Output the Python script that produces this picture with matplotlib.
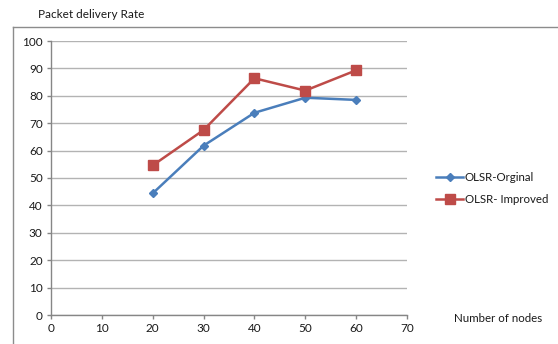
import matplotlib.pyplot as plt
from matplotlib.lines import Line2D

plt.rcParams['font.family'] = ['Lato', 'DejaVu Sans']

nodes = [20, 30, 40, 50, 60]
olsr_original = [44.4, 61.8, 73.8, 79.3, 78.5]
olsr_improved = [54.6, 67.5, 86.4, 81.9, 89.3]
x_ticks = [0, 10, 20, 30, 40, 50, 60, 70]
y_ticks = [0, 10, 20, 30, 40, 50, 60, 70, 80, 90, 100]

blue = '#4A7EBB'
red = '#BE4B48'
axis_gray = '#868686'
grid_gray = '#B3B3B3'
text_col = '#1A1A1A'

fig = plt.figure(figsize=(5.58, 3.44), dpi=100)
ax = fig.add_axes([51 / 558, 1 - 315 / 344, 356 / 558, 274 / 344])

ax.plot(nodes, olsr_original, color=blue, lw=1.8, marker='D', ms=4.5,
        label='OLSR-Orginal', zorder=3)
ax.plot(nodes, olsr_improved, color=red, lw=1.8, marker='s', ms=6.5,
        label='OLSR- Improved', zorder=3)

ax.set_xlim(0, 70)
ax.set_ylim(0, 100)
ax.set_xticks(x_ticks)
ax.set_yticks(y_ticks)
ax.yaxis.grid(True, color=grid_gray, lw=1)
ax.set_axisbelow(True)
for side in ('top', 'right'):
    ax.spines[side].set_visible(False)
for side in ('left', 'bottom'):
    ax.spines[side].set_color(axis_gray)
    ax.spines[side].set_linewidth(1)
ax.tick_params(axis='both', colors=axis_gray, length=3, width=1,
               labelcolor=text_col, labelsize=8.5)
ax.tick_params(axis='y', pad=3)
ax.tick_params(axis='x', pad=3)

# outer chart frame (partly cut off at right and bottom)
fig.add_artist(Line2D([13 / 558, 13 / 558], [0, 1 - 27 / 344],
                      color='#8C8C8C', lw=1))
fig.add_artist(Line2D([13 / 558, 1], [1 - 27 / 344, 1 - 27 / 344],
                      color='#8C8C8C', lw=1))

fig.text(38 / 558, 1 - 15 / 344, 'Packet delivery Rate', fontsize=8.5,
         color=text_col, va='center', ha='left')
fig.text(454 / 558, 1 - 319 / 344, 'Number of nodes', fontsize=8.3,
         color=text_col, va='center', ha='left')

leg = fig.legend(loc='upper left', bbox_to_anchor=(430 / 558, 1 - 166 / 344),
                 frameon=False, fontsize=8.3, handlelength=2.4,
                 handletextpad=0.1, labelspacing=1.0, borderpad=0)
for t in leg.get_texts():
    t.set_color(text_col)

fig.savefig('out.png', dpi=100)
